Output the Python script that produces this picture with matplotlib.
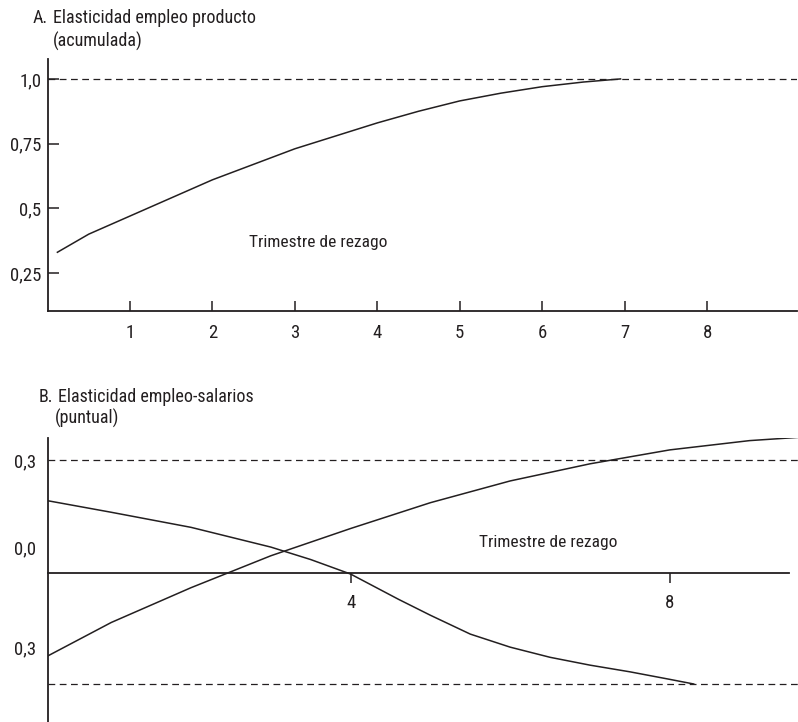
import matplotlib
matplotlib.use("Agg")
import matplotlib.pyplot as plt

# ---------------------------------------------------------------------------
# Data
# ---------------------------------------------------------------------------
# Panel A: cumulative employment-output elasticity
lag_a = [0.12, 0.5, 1, 1.5, 2, 2.5, 3, 3.5, 4, 4.5, 5, 5.5, 6, 6.5, 6.95]
elast_a = [0.33, 0.40, 0.47, 0.54, 0.61, 0.67, 0.73, 0.78, 0.83, 0.875,
           0.915, 0.945, 0.97, 0.988, 1.0]
ticks_a = [1, 2, 3, 4, 5, 6, 7, 8]
yticks_a = [0.25, 0.5, 0.75, 1.0]
ylabels_a = ["0,25", "0,5", "0,75", "1,0"]
ref_a = 1.0

# Panel B: point employment-wage elasticity (two curves)
lag_b_down = [0.2, 1, 2, 3, 3.5, 4, 4.6, 5, 5.5, 6, 6.5, 7, 7.5, 8, 8.3]
elast_b_down = [0.16, 0.12, 0.068, 0.0, -0.043, -0.093, -0.18, -0.235, -0.30,
                -0.345, -0.38, -0.407, -0.43, -0.456, -0.472]
lag_b_up = [0.2, 1, 2, 3, 4, 5, 6, 7, 8, 9, 9.6]
elast_b_up = [-0.376, -0.26, -0.14, -0.03, 0.064, 0.153, 0.228, 0.287,
              0.335, 0.367, 0.378]
ticks_b = [4, 8]
yticks_b = [0.3, 0.0, -0.345]
ylabels_b = ["0,3", "0,0", "0,3"]
ref_b = [0.3, -0.472]
axis_b = -0.091

# ---------------------------------------------------------------------------
# Style
# ---------------------------------------------------------------------------
FONT = ["Roboto Condensed", "DejaVu Sans"]
INK = "#231f20"
DASH = (0, (5.4, 3.6))
TICK_FS = 13.5
plt.rcParams["font.family"] = FONT
plt.rcParams["text.color"] = INK
plt.rcParams["xtick.color"] = INK
plt.rcParams["ytick.color"] = INK

W, H = 798, 722
fig = plt.figure(figsize=(W / 100, H / 100), dpi=100, facecolor="white")


def frac(x0, y0, x1, y1):
    """pixel box (left, top, right, bottom) -> figure fraction rect"""
    return [x0 / W, 1 - y1 / H, (x1 - x0) / W, (y1 - y0) / H]


# ---------------------------- Panel A ---------------------------------------
ax = fig.add_axes(frac(47.5, 59, 797, 311))
ax.plot(lag_a, elast_a, color=INK, lw=1.1)
ax.axhline(ref_a, color=INK, lw=0.9, ls=DASH)
ax.set_xlim(0, 9.09)
ax.set_ylim(0.103, 1.077)
for s in ("top", "right"):
    ax.spines[s].set_visible(False)
for s in ("left", "bottom"):
    ax.spines[s].set_linewidth(1.3)
    ax.spines[s].set_color(INK)
ax.set_xticks(ticks_a)
ax.set_xticklabels([str(t) for t in ticks_a])
ax.set_yticks(yticks_a)
ax.set_yticklabels(ylabels_a)
ax.tick_params(axis="x", direction="in", length=7.5, width=1.1, pad=9.5,
               labelsize=TICK_FS)
ax.tick_params(axis="y", direction="in", length=8, width=1.1, pad=4.5,
               labelsize=TICK_FS)
ax.text(3.28, 0.366, "Trimestre de rezago", ha="center", va="center",
        fontsize=12.5)

fig.text(33 / W, 1 - 23 / H, "A.", fontsize=13, va="baseline")
fig.text(53 / W, 1 - 23 / H, "Elasticidad empleo producto", fontsize=13,
         va="baseline")
fig.text(53 / W, 1 - 47 / H, "(acumulada)", fontsize=13, va="baseline")

# ---------------------------- Panel B ---------------------------------------
bx = fig.add_axes(frac(47.7, 438, 798, 722))
bx.plot(lag_b_down, elast_b_down, color=INK, lw=1.1)
bx.plot(lag_b_up, elast_b_up, color=INK, lw=1.1)
for r in ref_b:
    bx.axhline(r, color=INK, lw=0.9, ls=DASH)
bx.set_xlim(0.204, 9.607)
bx.set_ylim(-0.603, 0.376)
for s in ("top", "right"):
    bx.spines[s].set_visible(False)
bx.spines["left"].set_linewidth(1.3)
bx.spines["left"].set_color(INK)
bx.spines["bottom"].set_position(("data", axis_b))
bx.spines["bottom"].set_bounds(0.204, 9.5)
bx.spines["bottom"].set_linewidth(1.3)
bx.spines["bottom"].set_color(INK)
bx.set_xticks(ticks_b)
bx.set_xticklabels([str(t) for t in ticks_b])
bx.set_yticks(yticks_b)
bx.set_yticklabels(ylabels_b)
bx.tick_params(axis="x", direction="out", length=7.5, width=1.1, pad=7,
               labelsize=TICK_FS)
bx.tick_params(axis="y", length=0, pad=8, labelsize=TICK_FS)
bx.text(6.48, 0.015, "Trimestre de rezago", ha="center", va="center",
        fontsize=12.5)

fig.text(39 / W, 1 - 402 / H, "B.", fontsize=13, va="baseline")
fig.text(58 / W, 1 - 402 / H, "Elasticidad empleo-salarios", fontsize=13,
         va="baseline")
fig.text(55 / W, 1 - 424 / H, "(puntual)", fontsize=13, va="baseline")

fig.savefig("out.png", dpi=100, facecolor="white")
